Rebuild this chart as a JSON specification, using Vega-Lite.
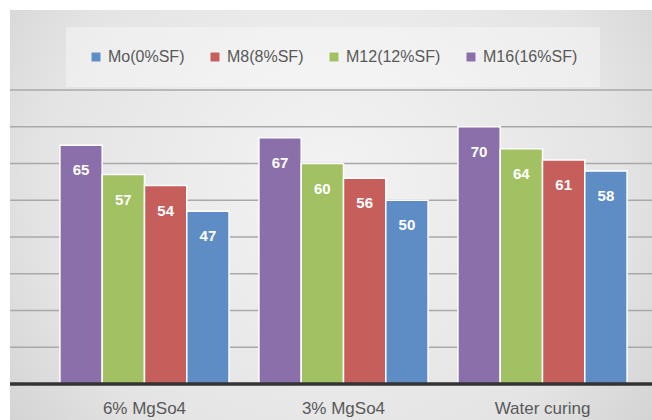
{
  "$schema": "https://vega.github.io/schema/vega-lite/v6.json",
  "width": 642,
  "height": 410,
  "autosize": {"type": "none"},
  "padding": {"left": 10, "top": 10, "right": 0, "bottom": 0},
  "background": "white",
  "config": {
    "view": {"stroke": null, "fill": "#e4e4e4"},
    "font": "Liberation Sans"
  },
  "datasets": {
    "panel": [{"part": "background"}],
    "grid": [{"g": 10}, {"g": 20}, {"g": 30}, {"g": 40}, {"g": 50}, {"g": 60}, {"g": 70}, {"g": 80}],
    "bars": [
      {"cond": "6% MgSo4", "mix": "M16(16%SF)", "v": 65},
      {"cond": "6% MgSo4", "mix": "M12(12%SF)", "v": 57},
      {"cond": "6% MgSo4", "mix": "M8(8%SF)", "v": 54},
      {"cond": "6% MgSo4", "mix": "Mo(0%SF)", "v": 47},
      {"cond": "3% MgSo4", "mix": "M16(16%SF)", "v": 67},
      {"cond": "3% MgSo4", "mix": "M12(12%SF)", "v": 60},
      {"cond": "3% MgSo4", "mix": "M8(8%SF)", "v": 56},
      {"cond": "3% MgSo4", "mix": "Mo(0%SF)", "v": 50},
      {"cond": "Water curing", "mix": "M16(16%SF)", "v": 70},
      {"cond": "Water curing", "mix": "M12(12%SF)", "v": 64},
      {"cond": "Water curing", "mix": "M8(8%SF)", "v": 61},
      {"cond": "Water curing", "mix": "Mo(0%SF)", "v": 58}
    ]
  },
  "layer": [
    {
      "data": {"name": "panel"},
      "mark": {
        "type": "rect",
        "fill": {
          "gradient": "radial",
          "x1": 0.5, "y1": 0.45, "r1": 0,
          "x2": 0.5, "y2": 0.45, "r2": 0.75,
          "stops": [
            {"offset": 0, "color": "#f3f3f3"},
            {"offset": 0.6, "color": "#e4e4e4"},
            {"offset": 1, "color": "#c8c8c8"}
          ]
        }
      },
      "encoding": {}
    },
    {
      "data": {"name": "grid"},
      "mark": {"type": "rule", "color": "#a9a9a9", "strokeWidth": 1.5},
      "encoding": {"y": {"field": "g", "type": "quantitative", "axis": null}}
    },
    {
      "data": {"name": "bars"},
      "mark": {"type": "bar", "stroke": "white", "strokeWidth": 1.5},
      "encoding": {
        "x": {
          "field": "cond", "type": "nominal",
          "scale": {"type": "band", "domain": ["6% MgSo4", "3% MgSo4", "Water curing"], "paddingInner": 0.15, "paddingOuter": 0.188, "align": 0.667},
          "axis": {
            "orient": "bottom", "offset": -36, "title": null, "domain": false, "ticks": false,
            "tickSize": 0, "labelAngle": 0, "labelFontSize": 17, "labelColor": "#595959",
            "labelBaseline": "middle", "labelPadding": 24, "labelFont": "Liberation Sans",
            "zindex": 1
          }
        },
        "xOffset": {
          "field": "mix", "type": "nominal",
          "scale": {"domain": ["M16(16%SF)", "M12(12%SF)", "M8(8%SF)", "Mo(0%SF)"], "paddingInner": 0, "paddingOuter": 0}
        },
        "y": {
          "field": "v", "type": "quantitative",
          "scale": {"domain": [-9.8, 101.8], "nice": false, "zero": false},
          "axis": null
        },
        "y2": {"datum": 0},
        "color": {
          "field": "mix", "type": "nominal",
          "scale": {
            "domain": ["Mo(0%SF)", "M8(8%SF)", "M12(12%SF)", "M16(16%SF)"],
            "range": ["#5E8DC6", "#C65E5B", "#A2C163", "#8B6FAA"]
          },
          "legend": {
            "title": null, "orient": "none", "direction": "horizontal", "columns": 4,
            "legendX": 56, "legendY": 17, "padding": 22,
            "fillColor": "rgba(255,255,255,0.35)",
            "symbolType": "square", "symbolSize": 80, "symbolStrokeWidth": 0, "symbolOpacity": 1,
            "labelFontSize": 16, "labelColor": "#595959", "labelFont": "Liberation Sans",
            "labelOffset": 4, "columnPadding": 22
          }
        }
      }
    },
    {
      "data": {"name": "bars"},
      "mark": {"type": "text", "color": "white", "fontWeight": "bold", "fontSize": 15, "baseline": "middle", "dy": 25},
      "encoding": {
        "x": {"field": "cond", "type": "nominal"},
        "xOffset": {"field": "mix", "type": "nominal"},
        "y": {"field": "v", "type": "quantitative", "axis": null},
        "text": {"field": "v", "type": "quantitative"}
      }
    },
    {
      "data": {"name": "panel"},
      "mark": {"type": "rule", "color": "#333333", "strokeWidth": 3.5},
      "encoding": {"y": {"datum": 0, "axis": null}}
    }
  ]
}
